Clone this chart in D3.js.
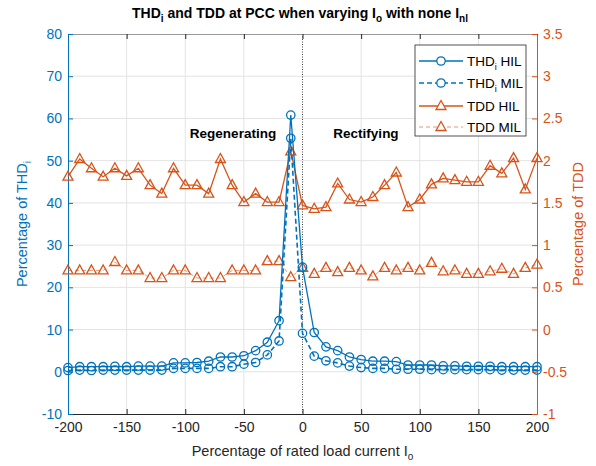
<!DOCTYPE html>
<html>
<head>
    <meta charset="utf-8">
    <script type="text/javascript" src="https://cdn.jsdelivr.net/npm/d3@7"></script>
    <style>
        body { margin: 0; background: #fff; }
        text { font-family: "Liberation Sans", Arial, sans-serif; }
    </style>
</head>
<body>
    <div id="viz"></div>
    <script type="text/javascript">

    // load current in % of rated, one point every 10 %
    var loadPct = [-200, -190, -180, -170, -160, -150, -140, -130, -120, -110, -100,
                   -90, -80, -70, -60, -50, -40, -30, -20, -10, 0,
                   10, 20, 30, 40, 50, 60, 70, 80, 90, 100,
                   110, 120, 130, 140, 150, 160, 170, 180, 190, 200];

    // THDi (left axis, %)
    var thdHIL = [1.0, 1.2, 1.2, 1.2, 1.3, 1.2, 1.35, 1.35, 1.35, 2.1, 2.1,
                  2.2, 2.5, 3.5, 3.5, 3.8, 5.0, 7.0, 12.1, 60.8, 24.8,
                  9.3, 5.9, 5.0, 3.5, 2.9, 2.5, 2.5, 2.4, 1.6, 1.6,
                  1.6, 1.4, 1.4, 1.3, 1.3, 1.3, 1.2, 1.2, 1.2, 1.2];
    var thdMIL = [0.3, 0.4, 0.3, 0.4, 0.4, 0.4, 0.4, 0.4, 0.4, 0.8, 0.8,
                  0.8, 0.8, 1.2, 1.2, 1.8, 2.2, 4.0, 7.3, 55.3, 9.1,
                  3.7, 2.6, 2.1, 1.35, 1.0, 0.8, 0.8, 0.6, 0.6, 0.6,
                  0.5, 0.5, 0.5, 0.5, 0.5, 0.5, 0.4, 0.4, 0.4, 0.4];

    // TDD (right axis, %)
    var tddHIL = [1.81, 2.02, 1.91, 1.81, 1.91, 1.82, 1.91, 1.71, 1.61, 1.91, 1.71,
                  1.71, 1.61, 2.02, 1.71, 1.51, 1.61, 1.51, 1.51, 2.11, 1.47,
                  1.43, 1.45, 1.73, 1.54, 1.51, 1.57, 1.71, 1.86, 1.45, 1.54,
                  1.72, 1.79, 1.77, 1.75, 1.75, 1.94, 1.85, 2.03, 1.66, 2.03];
    var tddMIL = [0.70, 0.70, 0.70, 0.70, 0.80, 0.70, 0.70, 0.61, 0.61, 0.70, 0.70,
                  0.61, 0.61, 0.61, 0.70, 0.70, 0.70, 0.81, 0.81, 0.62, 0.73,
                  0.66, 0.73, 0.68, 0.73, 0.70, 0.63, 0.73, 0.70, 0.73, 0.70,
                  0.79, 0.69, 0.70, 0.66, 0.66, 0.69, 0.72, 0.66, 0.73, 0.77];

    var xTicks = [-200, -150, -100, -50, 0, 50, 100, 150, 200];
    var yLeftTicks = [-10, 0, 10, 20, 30, 40, 50, 60, 70, 80];
    var yRightTicks = [-1, -0.5, 0, 0.5, 1, 1.5, 2, 2.5, 3, 3.5];

    var blue = "#0072BD";
    var orange = "#D95319";
    var dark = "#262626";

    var W = 596, H = 466;
    var padL = 68, padR = 537, padT = 34, padB = 414;

    var svg = d3.select("#viz").append("svg")
        .attr("width", W)
        .attr("height", H);

    var x = d3.scaleLinear().domain([-200, 200]).range([padL, padR]);
    var yL = d3.scaleLinear().domain([-10, 80]).range([padB, padT]);
    var yR = d3.scaleLinear().domain([-1, 3.5]).range([padB, padT]);

    // plain hyphen minus like matlab
    function fmt(d) { return String(d); }

    // grid
    var grid = svg.append("g");
    grid.selectAll("line.v").data(xTicks.slice(1, -1).filter(function(d) { return d !== 0; }))
        .enter().append("line")
        .attr("x1", function(d) { return x(d); }).attr("x2", function(d) { return x(d); })
        .attr("y1", padT).attr("y2", padB)
        .style("stroke", "#e3e3e3").style("stroke-width", 1);
    grid.selectAll("line.h").data(yLeftTicks.slice(1, -1))
        .enter().append("line")
        .attr("x1", padL).attr("x2", padR)
        .attr("y1", function(d) { return yL(d); }).attr("y2", function(d) { return yL(d); })
        .style("stroke", "#e3e3e3").style("stroke-width", 1);

    // dotted line at zero load
    svg.append("line")
        .attr("x1", x(0)).attr("x2", x(0))
        .attr("y1", padT).attr("y2", padB)
        .style("stroke", "#444").style("stroke-width", 1)
        .style("stroke-dasharray", "1,1.5");

    // axes, matlab-ish: ticks inside
    var xAxisB = svg.append("g").attr("transform", "translate(0," + padB + ")")
        .call(d3.axisBottom(x).tickValues(xTicks).tickSizeInner(-5).tickSizeOuter(0).tickPadding(8).tickFormat(fmt));
    var xAxisT = svg.append("g").attr("transform", "translate(0," + padT + ")")
        .call(d3.axisTop(x).tickValues(xTicks).tickSizeInner(-5).tickSizeOuter(0).tickFormat(""));
    [xAxisB, xAxisT].forEach(function(a) {
        a.select(".domain").style("stroke", dark);
        a.selectAll(".tick line").style("stroke", dark);
    });
    xAxisT.select(".domain").style("stroke", "#999");
    xAxisB.selectAll("text").style("fill", dark).style("font-size", "14px");

    var yAxisL = svg.append("g").attr("transform", "translate(" + padL + ",0)")
        .call(d3.axisLeft(yL).tickValues(yLeftTicks).tickSizeInner(-5).tickSizeOuter(0).tickPadding(6).tickFormat(fmt));
    yAxisL.select(".domain").style("stroke", blue);
    yAxisL.selectAll(".tick line").style("stroke", blue);
    yAxisL.selectAll("text").style("fill", blue).style("font-size", "14px");

    var yAxisR = svg.append("g").attr("transform", "translate(" + padR + ",0)")
        .call(d3.axisRight(yR).tickValues(yRightTicks).tickSizeInner(-5).tickSizeOuter(0).tickPadding(6).tickFormat(fmt));
    yAxisR.select(".domain").style("stroke", orange);
    yAxisR.selectAll(".tick line").style("stroke", orange);
    yAxisR.selectAll("text").style("fill", orange).style("font-size", "14px");

    // series
    function makeRows(ys) {
        return loadPct.map(function(d, i) { return [d, ys[i]]; });
    }

    var triPath = "M0,-5.5L5,3.5L-5,3.5Z";

    function drawSeries(ys, yScale, color, dash, width, marker) {
        var rows = makeRows(ys);
        var line = d3.line()
            .x(function(d) { return x(d[0]); })
            .y(function(d) { return yScale(d[1]); });
        svg.append("path")
            .datum(rows)
            .attr("d", line)
            .style("fill", "none")
            .style("stroke", color)
            .style("stroke-width", width)
            .style("stroke-dasharray", dash);
        var g = svg.append("g");
        if (marker === "o") {
            g.selectAll("circle").data(rows).enter().append("circle")
                .attr("cx", function(d) { return x(d[0]); })
                .attr("cy", function(d) { return yScale(d[1]); })
                .attr("r", 4.2)
                .style("fill", "none")
                .style("stroke", color)
                .style("stroke-width", 1.3);
        } else {
            g.selectAll("path").data(rows).enter().append("path")
                .attr("d", triPath)
                .attr("transform", function(d) { return "translate(" + x(d[0]) + "," + yScale(d[1]) + ")"; })
                .style("fill", "none")
                .style("stroke", color)
                .style("stroke-width", 1.3);
        }
    }

    drawSeries(tddMIL, yR, orange, "4,3", 0.6, "^");
    drawSeries(tddHIL, yR, orange, null, 1.3, "^");
    drawSeries(thdMIL, yL, blue, "5,3", 1.6, "o");
    drawSeries(thdHIL, yL, blue, null, 1.3, "o");

    // annotations
    svg.append("text").attr("x", 233).attr("y", 138).attr("text-anchor", "middle")
        .style("font-size", "13.5px").style("font-weight", "bold").style("fill", "#000")
        .text("Regenerating");
    svg.append("text").attr("x", 366).attr("y", 138).attr("text-anchor", "middle")
        .style("font-size", "13.5px").style("font-weight", "bold").style("fill", "#000")
        .text("Rectifying");

    // title
    var title = svg.append("text").attr("x", 300).attr("y", 18).attr("text-anchor", "middle")
        .style("font-size", "14px").style("font-weight", "bold").style("fill", "#000");
    title.append("tspan").text("THD");
    title.append("tspan").attr("dy", 4).style("font-size", "10px").text("i");
    title.append("tspan").attr("dy", -4).text(" and TDD at PCC when varying  I");
    title.append("tspan").attr("dy", 4).style("font-size", "10px").text("o");
    title.append("tspan").attr("dy", -4).text(" with none I");
    title.append("tspan").attr("dy", 4).style("font-size", "10px").text("nl");

    // axis labels
    var xl = svg.append("text").attr("x", (padL + padR) / 2).attr("y", 456).attr("text-anchor", "middle")
        .style("font-size", "14.5px").style("fill", dark);
    xl.append("tspan").text("Percentage of rated load current I");
    xl.append("tspan").attr("dy", 4).style("font-size", "10px").text("o");

    var yl = svg.append("text")
        .attr("transform", "translate(27," + ((padT + padB) / 2) + ") rotate(-90)")
        .attr("text-anchor", "middle")
        .style("font-size", "14.5px").style("fill", blue);
    yl.append("tspan").text("Percentage of THD");
    yl.append("tspan").attr("dy", 4).style("font-size", "10px").text("i");

    svg.append("text")
        .attr("transform", "translate(583," + ((padT + padB) / 2) + ") rotate(-90)")
        .attr("text-anchor", "middle")
        .style("font-size", "14.5px").style("fill", orange)
        .text("Percentage of TDD");

    // legend
    var legX = 415, legY = 45, legW = 111, legH = 91;
    var leg = svg.append("g");
    leg.append("rect").attr("x", legX).attr("y", legY).attr("width", legW).attr("height", legH)
        .style("fill", "#fff").style("stroke", dark).style("stroke-width", 0.8);
    var legItems = [
        { name: "THD", sub: "i", rest: " HIL", color: blue, dash: null, width: 1.3, marker: "o" },
        { name: "THD", sub: "i", rest: " MIL", color: blue, dash: "5,3", width: 1.6, marker: "o" },
        { name: "TDD HIL", sub: "", rest: "", color: orange, dash: null, width: 1.3, marker: "^" },
        { name: "TDD MIL", sub: "", rest: "", color: orange, dash: "4,3", width: 0.6, marker: "^" }
    ];
    var legRowY = [61, 83, 106, 127];
    legItems.forEach(function(it, i) {
        var cy = legRowY[i];
        leg.append("line").attr("x1", legX + 4).attr("x2", legX + 48)
            .attr("y1", cy).attr("y2", cy)
            .style("stroke", it.color).style("stroke-width", it.width)
            .style("stroke-dasharray", it.dash);
        if (it.marker === "o") {
            leg.append("circle").attr("cx", legX + 26).attr("cy", cy).attr("r", 4.2)
                .style("fill", "#fff").style("stroke", it.color).style("stroke-width", 1.3);
        } else {
            leg.append("path").attr("d", triPath)
                .attr("transform", "translate(" + (legX + 26) + "," + cy + ")")
                .style("fill", "#fff").style("stroke", it.color).style("stroke-width", 1.3);
        }
        var t = leg.append("text").attr("x", legX + 52).attr("y", cy + 4.5)
            .style("font-size", "13.5px").style("fill", "#000");
        t.append("tspan").text(it.name);
        if (it.sub) {
            t.append("tspan").attr("dy", 4).style("font-size", "9px").text(it.sub);
            t.append("tspan").attr("dy", -4).text(it.rest);
        }
    });

    </script>
</body>
</html>
